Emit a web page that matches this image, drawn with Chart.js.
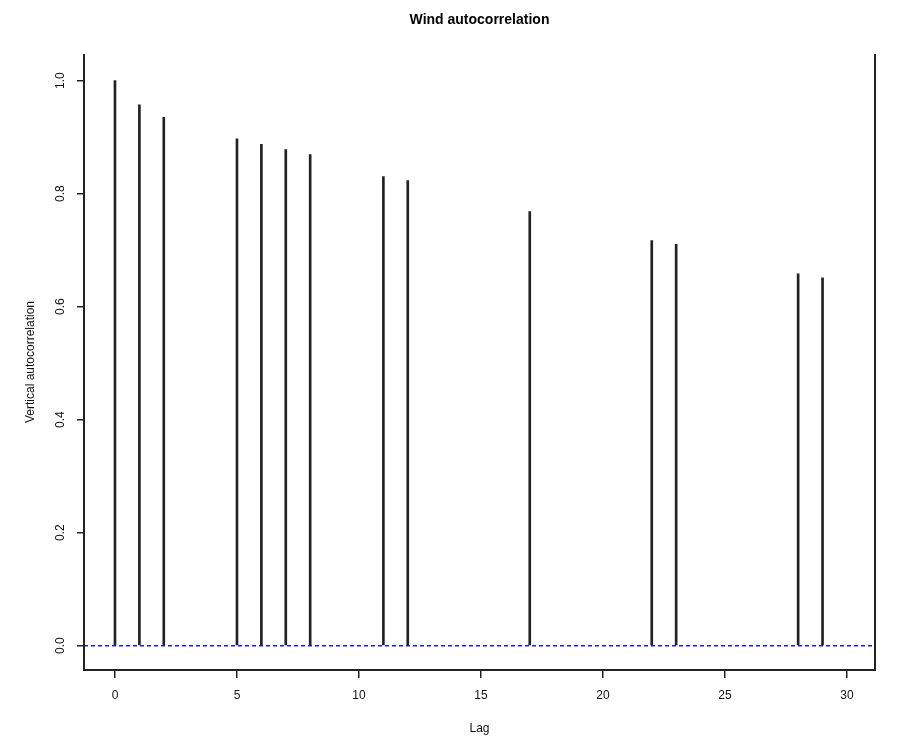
<!DOCTYPE html>
<html>
<head>
<meta charset="utf-8">
<script src="https://cdn.jsdelivr.net/npm/chart.js@4/dist/chart.umd.min.js"></script>
<style>
  html, body { margin: 0; padding: 0; background: #fff; }
</style>
</head>
<body>
<canvas id="acfChart" width="899" height="742"></canvas>
<script>
// ACF values
const lags = [0, 1, 2, 5, 6, 7, 8, 11, 12, 17, 22, 23, 28, 29];
const acf = [1.0, 0.957, 0.935, 0.897, 0.887, 0.878, 0.869, 0.830, 0.823, 0.768, 0.717, 0.710, 0.658, 0.651];
const xTicks = [0, 5, 10, 15, 20, 25, 30];
const yTicks = [0, 0.2, 0.4, 0.6, 0.8, 1];
const yTickLabels = ['0.0', '0.2', '0.4', '0.6', '0.8', '1.0'];
const xRange = [-1.27, 31.15];
const yRange = [-0.043, 1.047];
const refLevel = 0;

const chartTitle = 'Wind autocorrelation';
const FONT = '"Liberation Sans", Arial, sans-serif';

// R-style box (no top edge) and title centred over the plot
const framePlugin = {
  id: 'frame',
  afterDraw(chart) {
    const { ctx, chartArea: a } = chart;
    ctx.save();
    ctx.strokeStyle = '#222';
    ctx.lineWidth = 2;
    ctx.beginPath();
    ctx.moveTo(a.left, a.top);
    ctx.lineTo(a.left, a.bottom);
    ctx.lineTo(a.right, a.bottom);
    ctx.lineTo(a.right, a.top);
    ctx.stroke();
    ctx.fillStyle = '#000';
    ctx.font = 'bold 14px ' + FONT;
    ctx.textAlign = 'center';
    ctx.textBaseline = 'middle';
    ctx.fillText(chartTitle, (a.left + a.right) / 2, 20);
    ctx.restore();
  }
};

const ctx = document.getElementById('acfChart').getContext('2d');
new Chart(ctx, {
  type: 'bar',
  data: {
    datasets: [{
      type: 'bar',
      data: lags.map((l, i) => ({ x: l, y: acf[i] })),
      backgroundColor: '#222',
      borderWidth: 0,
      barThickness: 2
    }, {
      type: 'line',
      data: [{ x: xRange[0], y: refLevel }, { x: xRange[1], y: refLevel }],
      borderColor: '#1a1aff',
      borderWidth: 1.5,
      borderDash: [4, 3],
      pointRadius: 0,
      fill: false
    }]
  },
  options: {
    responsive: false,
    animation: false,
    layout: { padding: { left: 16, right: 24, top: 54, bottom: 6 } },
    plugins: { legend: { display: false }, tooltip: { enabled: false } },
    scales: {
      x: {
        type: 'linear',
        offset: false,
        min: xRange[0],
        max: xRange[1],
        afterBuildTicks: s => { s.ticks = xTicks.map(v => ({ value: v })); },
        afterFit: s => { s.height = 66; },
        border: { display: false },
        grid: { offset: false, drawOnChartArea: false, drawTicks: true, tickLength: 8, color: '#222', lineWidth: 1.5 },
        ticks: { color: '#111', font: { family: FONT, size: 12 }, padding: 10, maxRotation: 0 },
        title: { display: true, text: 'Lag', color: '#111', font: { family: FONT, size: 12 }, padding: 0 }
      },
      y: {
        min: yRange[0],
        max: yRange[1],
        afterBuildTicks: s => { s.ticks = yTicks.map(v => ({ value: v })); },
        afterFit: s => { s.width = 68; },
        border: { display: false },
        grid: { drawOnChartArea: false, drawTicks: true, tickLength: 7, color: '#222', lineWidth: 1.5 },
        ticks: {
          color: '#111',
          font: { family: FONT, size: 12 },
          padding: 8,
          minRotation: 90,
          maxRotation: 90,
          crossAlign: 'center',
          callback: (v) => yTickLabels[yTicks.indexOf(v)]
        },
        title: { display: true, text: 'Vertical autocorrelation', color: '#111', font: { family: FONT, size: 12 }, padding: { top: 7, bottom: 0 } }
      }
    }
  },
  plugins: [framePlugin]
});
</script>
</body>
</html>
